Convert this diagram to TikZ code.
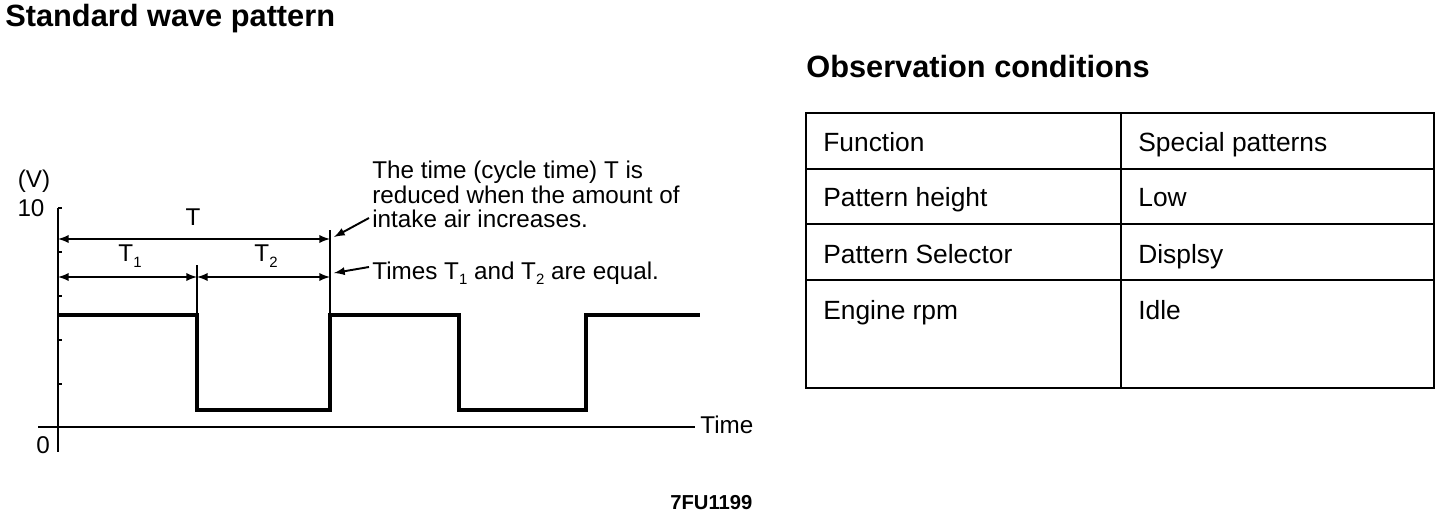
\documentclass[tikz,border=0pt]{standalone}
\usepackage{fontspec}
\setmainfont{Liberation Sans}
\newcommand{\lowidx}[1]{\raisebox{-0.45ex}{\fontsize{8.5}{8.5}\selectfont #1}}
\begin{document}
\begin{tikzpicture}[x=0.02cm, y=-0.02cm, >=latex]
        \tikzstyle{axisline} = [line width=1.1pt]
        \tikzstyle{waveline} = [line width=1.8pt, line join=miter]
        \tikzstyle{dimline} = [line width=1.1pt]
        \tikzstyle{extline} = [line width=0.8pt]
        \tikzstyle{txt} = [inner sep=0pt, font=\fontsize{13.8}{13.8}\selectfont]
        \tikzstyle{cell} = [inner sep=0pt, anchor=base west, font=\fontsize{15}{18}\selectfont]
        \tikzstyle{heading} = [inner sep=0pt, anchor=base west, font=\fontsize{17.5}{20}\selectfont\bfseries]

        \useasboundingbox (0,0) rectangle (1456,520);

        % Titres
        \node[heading] (title_wave) at (5,27) {Standard wave pattern};
        \node[heading] (title_obs) at (806,78) {Observation conditions};
        \node[inner sep=0pt, anchor=base west, font=\fontsize{11.5}{14}\selectfont\bfseries] (ref) at (670,509) {7FU1199};

        % Axes
        \draw[axisline] (58,208) -- (58,452);
        \draw[axisline] (38,427) -- (695,427);
        \foreach \k in {0,...,4}
            \draw[axisline] (58,208+44*\k) -- ++(4,0);
        \node[txt] (unit) at (34,181) {(V)};
        \node[txt] (ten) at (31,208) {10};
        \node[txt] (zero) at (43,445) {0};
        \node[txt, anchor=base west] (time) at (700,433) {Time};

        % Signal
        \draw[waveline] (58,315) -- (197,315) -- (197,410) -- (330,410) -- (330,315)
            -- (459,315) -- (459,410) -- (586,410) -- (586,315) -- (700,315);
        \draw[extline] (330,230) -- (330,315);
        \draw[extline] (197,265) -- (197,315);

        % Cotes T, T1, T2
        \coordinate (t_start) at (58,239);
        \coordinate (t_end) at (330,239);
        \coordinate (t1_start) at (58,277);
        \coordinate (t1_end) at (197,277);
        \coordinate (t2_end) at (330,277);
        \draw[dimline, <->] (t_start) -- (t_end);
        \draw[dimline, <->] (t1_start) -- (t1_end);
        \draw[dimline, <->] (t1_end) -- (t2_end);
        \node[txt] (T) at (193,217) {T};
        \node[txt] (T1) at (130,256) {T\lowidx{1}};
        \node[txt] (T2) at (266,256) {T\lowidx{2}};

        % Notes
        \node[txt, anchor=north west, align=left] (note_cycle) at (372,161)
            {The time (cycle time) T is\\reduced when the amount of\\intake air increases.};
        \node[txt, anchor=base west] (note_equal) at (372,279)
            {Times T\lowidx{1} and T\lowidx{2} are equal.};
        \coordinate (cycle_tail) at (369,218);
        \coordinate (cycle_head) at (334,237);
        \coordinate (equal_tail) at (369,267);
        \coordinate (equal_head) at (334,273);
        \draw[dimline, ->] (cycle_tail) -- (cycle_head);
        \draw[dimline, ->] (equal_tail) -- (equal_head);

        % Tableau
        \draw[line width=1.4pt] (806,113) rectangle (1434,388);
        \draw[line width=1.1pt] (806,169) -- (1434,169);
        \draw[line width=1.1pt] (806,224) -- (1434,224);
        \draw[line width=1.1pt] (806,280) -- (1434,280);
        \draw[line width=1.1pt] (1121,113) -- (1121,388);
        \node[cell] (func) at (823,152) {Function};
        \node[cell] (func_val) at (1138,152) {Special patterns};
        \node[cell] (height) at (823,207) {Pattern height};
        \node[cell] (height_val) at (1138,207) {Low};
        \node[cell] (selector) at (823,263) {Pattern Selector};
        \node[cell] (selector_val) at (1138,263) {Displsy};
        \node[cell] (rpm) at (823,319) {Engine rpm};
        \node[cell] (rpm_val) at (1138,319) {Idle};
    \end{tikzpicture}
\end{document}
